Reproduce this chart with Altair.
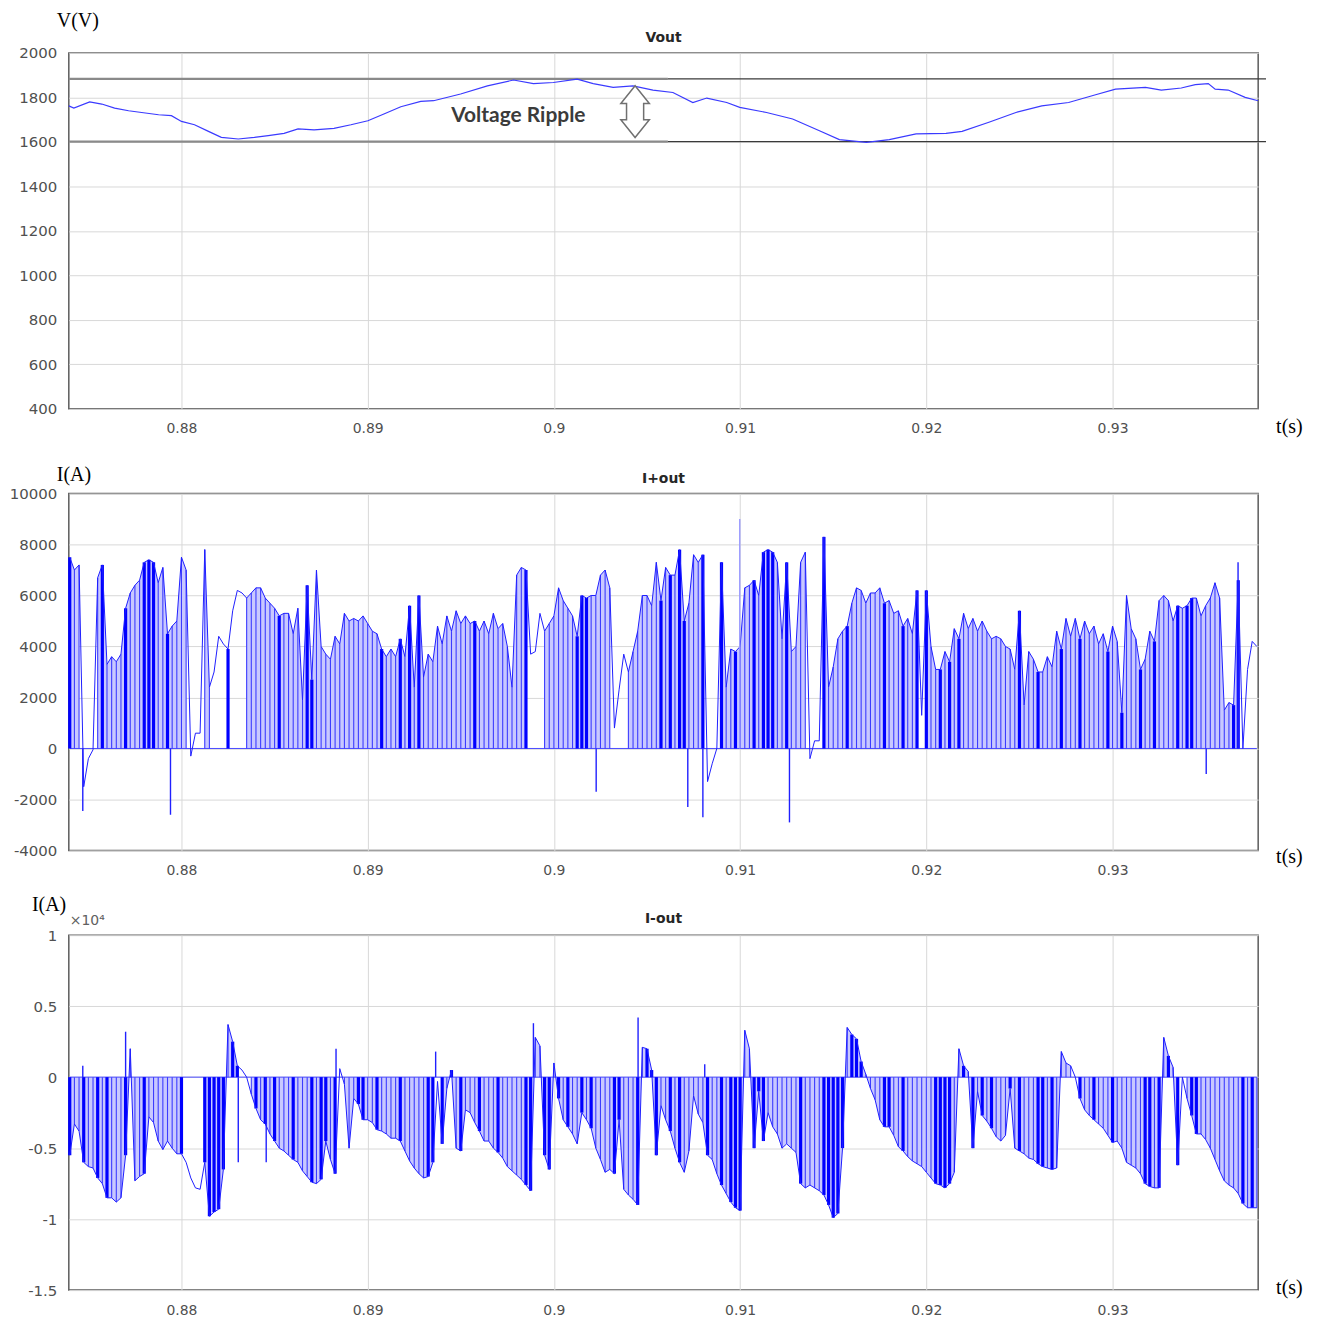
import altair as alt
import pandas as pd

# ------------------------------------------------------------------ data
X_DOMAIN = [873.95, 937.82]          # ms
X_TICKS = [880, 890, 900, 910, 920, 930]

# Vout (panel 1)
VOUT_T = [873.95, 874.22, 875.07, 875.72, 876.41, 877.16, 877.86, 878.77, 879.46, 880.00,
          880.70, 881.45, 882.14, 883.05, 883.91, 884.66, 885.51, 886.26, 887.12, 888.19,
          889.10, 890.01, 890.87, 891.78, 892.85, 893.54, 894.99, 896.43, 897.83, 898.90,
          899.97, 901.25, 902.11, 903.18, 904.25, 905.32, 906.39, 907.46, 908.21, 909.28,
          909.98, 911.42, 912.82, 914.26, 915.33, 916.78, 918.01, 919.45, 921.06, 921.92,
          923.36, 924.81, 926.20, 927.64, 929.09, 930.16, 931.77, 932.62, 933.69, 934.44,
          935.14, 935.51, 936.21, 937.12, 937.82]
VOUT_V = [1762, 1752, 1780, 1770, 1752, 1740, 1732, 1722, 1718, 1692,
          1677, 1647, 1620, 1613, 1620, 1628, 1638, 1658, 1654, 1661,
          1677, 1695, 1725, 1758, 1782, 1785, 1815, 1852, 1878, 1862,
          1867, 1882, 1862, 1845, 1852, 1833, 1822, 1777, 1797, 1777,
          1755, 1732, 1703, 1650, 1610, 1598, 1610, 1636, 1638, 1647,
          1688, 1732, 1762, 1777, 1812, 1837, 1845, 1833, 1842, 1857,
          1862, 1837, 1833, 1800, 1785]
RIPPLE_LEVELS = [1883, 1601]
RIPPLE_SPAN = [873.95, 906.12, 938.24]
RIPPLE_LABEL_T, RIPPLE_LABEL_V = 898.09, 1718
ARROW_T, ARROW_V = 904.36, 1736

# switching-cycle sample clock (ms)
T_MS = [
    874.00, 874.25, 874.50, 874.75, 875.00, 875.25, 875.50, 875.75, 876.00, 876.25, 876.50, 876.75, 877.00, 877.25, 877.50, 877.75,
    878.00, 878.25, 878.50, 878.75, 879.00, 879.25, 879.50, 879.75, 880.00, 880.25, 880.50, 880.75, 881.00, 881.25, 881.50, 881.75,
    882.00, 882.25, 882.50, 882.75, 883.00, 883.25, 883.50, 883.75, 884.00, 884.25, 884.50, 884.75, 885.00, 885.25, 885.50, 885.75,
    886.00, 886.25, 886.50, 886.75, 887.00, 887.25, 887.50, 887.75, 888.00, 888.25, 888.50, 888.75, 889.00, 889.25, 889.50, 889.75,
    890.00, 890.25, 890.50, 890.75, 891.00, 891.25, 891.50, 891.75, 892.00, 892.25, 892.50, 892.75, 893.00, 893.25, 893.50, 893.75,
    894.00, 894.25, 894.50, 894.75, 895.00, 895.25, 895.50, 895.75, 896.00, 896.25, 896.50, 896.75, 897.00, 897.25, 897.50, 897.75,
    898.00, 898.25, 898.50, 898.75, 899.00, 899.25, 899.50, 899.75, 900.00, 900.25, 900.50, 900.75, 901.00, 901.25, 901.50, 901.75,
    902.00, 902.25, 902.50, 902.75, 903.00, 903.25, 903.50, 903.75, 904.00, 904.25, 904.50, 904.75, 905.00, 905.25, 905.50, 905.75,
    906.00, 906.25, 906.50, 906.75, 907.00, 907.25, 907.50, 907.75, 908.00, 908.25, 908.50, 908.75, 909.00, 909.25, 909.50, 909.75,
    910.00, 910.25, 910.50, 910.75, 911.00, 911.25, 911.50, 911.75, 912.00, 912.25, 912.50, 912.75, 913.00, 913.25, 913.50, 913.75,
    914.00, 914.25, 914.50, 914.75, 915.00, 915.25, 915.50, 915.75, 916.00, 916.25, 916.50, 916.75, 917.00, 917.25, 917.50, 917.75,
    918.00, 918.25, 918.50, 918.75, 919.00, 919.25, 919.50, 919.75, 920.00, 920.25, 920.50, 920.75, 921.00, 921.25, 921.50, 921.75,
    922.00, 922.25, 922.50, 922.75, 923.00, 923.25, 923.50, 923.75, 924.00, 924.25, 924.50, 924.75, 925.00, 925.25, 925.50, 925.75,
    926.00, 926.25, 926.50, 926.75, 927.00, 927.25, 927.50, 927.75, 928.00, 928.25, 928.50, 928.75, 929.00, 929.25, 929.50, 929.75,
    930.00, 930.25, 930.50, 930.75, 931.00, 931.25, 931.50, 931.75, 932.00, 932.25, 932.50, 932.75, 933.00, 933.25, 933.50, 933.75,
    934.00, 934.25, 934.50, 934.75, 935.00, 935.25, 935.50, 935.75, 936.00, 936.25, 936.50, 936.75, 937.00, 937.25, 937.50, 937.75,
]

# I+out peak per cycle (A) and drawing kind (0 none, 1 notch, 2 dense notch)
IPLUS = [
    7500, 7000, 7200, -1500, -400, -50, 6700, 7200, 3300, 3600, 3400, 3700, 5500, 6100, 6400, 6600,
    7300, 7400, 7300, 6500, 7100, 4500, 4800, 5000, 7500, 7000, -300, 600, 600, 7800, 2400, 3000,
    4400, 4100, 3900, 5400, 6200, 6100, 5900, 6100, 6300, 6300, 5900, 5700, 5500, 5200, 5300, 5300,
    4500, 5500, 1900, 6400, 2700, 7000, 4000, 3700, 3500, 4400, 4100, 5300, 5000, 5100, 5000, 5200,
    4900, 4600, 4500, 3900, 3600, 3900, 3600, 4300, 3600, 5600, 2400, 6000, 2800, 3700, 3400, 4800,
    4100, 5200, 4600, 5400, 4900, 5200, 4900, 5000, 4600, 5000, 4500, 5300, 4700, 4900, 4000, 2400,
    6800, 7100, 7000, 3700, 3800, 5300, 4600, 4900, 5200, 6300, 5800, 5500, 5200, 4400, 6000, 5900,
    6000, 6000, 6800, 7000, 6300, 800, 2300, 3700, 3000, 3800, 4600, 6000, 6000, 5600, 7300, 5800,
    7100, 6800, 6800, 7800, 5000, 5700, 7600, 7300, 7600, -1300, -600, 0, 7300, 2400, 3900, 3800,
    4000, 6300, 6400, 6600, 6000, 7700, 7800, 7700, 7300, 4300, 7300, 3800, 4000, 7300, 7700, -400,
    300, 300, 8300, 2400, 3200, 4300, 4600, 4800, 5700, 6300, 6200, 5700, 6100, 6100, 6300, 5700,
    5800, 5300, 5400, 4800, 5100, 4500, 6200, 1300, 6200, 4000, 3100, 3100, 3800, 3400, 4700, 4300,
    5300, 4700, 5100, 4600, 5000, 4600, 4300, 4400, 4300, 4000, 3900, 3100, 5400, 1700, 3800, 3500,
    3000, 3000, 3600, 3200, 4600, 3900, 5100, 4400, 5100, 4300, 5000, 4500, 4800, 4100, 4500, 3800,
    4800, 4200, 1400, 6000, 4700, 4300, 3100, 3500, 4600, 4200, 5800, 6000, 5800, 5000, 5600, 5500,
    5600, 5900, 5900, 5200, 5600, 5900, 6500, 5900, 1500, 1800, 1700, 6600, 0, 3100, 4200, 4000,
]
IPLUS_KIND = ("2110001211112111" "2221121111000110" "0020001111111211" "1112211111111111"
              "1112111212121111" "1111111211111111" "1120001111111222" "1111100011111112"
              "1212211120002112" "1112122211211110" "0021111211111112" "1112112021121212"
              "1111111111112111" "2111121112111112" "1121112112111121" "2211111111220000")
IPLUS_SPIKE_T = [874.70, 879.41, 902.27, 907.19, 908.00, 912.65, 935.03, 936.74]
IPLUS_SPIKE_V = [-2450, -2600, -1700, -2300, -2700, -2900, -1000, 7300]
IPLUS_FAINT_T = [909.98]
IPLUS_FAINT_V = [9000]

# I-out peak per cycle (A) and drawing kind
IMINUS = [
    -5500, -3300, -3800, -6000, -6300, -6400, -7100, -7500, -8500, -8500, -8800, -8500, -5500, 2000, -7300, -7000,
    -6800, -2800, -3200, -4500, -5100, -4500, -5000, -5400, -5400, -6000, -7100, -7800, -7900, -6000, -9800, -9500,
    -9300, -6500, 3700, 2500, 800, 500, 0, -1200, -2200, -3000, -3300, -4000, -4500, -5000, -5200, -5500,
    -5800, -6000, -6600, -7000, -7400, -7500, -7200, -4500, -5800, -6800, 600, -500, -5000, -1500, -1900, -3000,
    -3000, -3200, -3700, -3800, -4000, -4300, -4300, -4500, -5200, -5900, -6400, -6800, -7100, -7000, -6000, -300,
    -4700, -800, 500, -5000, -5200, -2300, -2500, -3200, -3800, -4500, -4500, -5000, -5300, -5700, -6300, -6600,
    -6900, -7200, -7600, -8000, 2800, 2200, -5500, -6500, 1000, -1500, -3000, -3500, -4000, -4700, -2500, -3000,
    -3600, -5000, -5800, -6700, -6500, -6800, -3000, -7900, -8300, -8600, -9000, 2100, 2000, 500, -5500, -2000,
    -3000, -3800, -5000, -6000, -6700, -5200, -1300, -2600, -3200, -5500, -5800, -6800, -7600, -8200, -8800, -9200,
    -9400, 3300, 2000, -5000, -1000, -4500, -2500, -3500, -4000, -5000, -4700, -5000, -5300, -7500, -7800, -7600,
    -7800, -8000, -8300, -9000, -9900, -9600, -5000, 3500, 3000, 2700, 1100, 200, -800, -1600, -3000, -3500,
    -3500, -4100, -4900, -5200, -5600, -5900, -6100, -6300, -6700, -7100, -7500, -7600, -7800, -7500, -6700, 2000,
    800, 400, -5000, -1000, -2700, -3100, -3600, -4200, -4500, -4100, -800, -5000, -5200, -5400, -5700, -5800,
    -6100, -6300, -6400, -6500, -6400, 1800, 1000, 800, 0, -1500, -2300, -2700, -3000, -3300, -3600, -4100,
    -4600, -4500, -5000, -6000, -6200, -6400, -6800, -7500, -7700, -7800, -7800, 2800, 1500, 700, -6200, 0,
    -1500, -2700, -4000, -4000, -4400, -5000, -5800, -6600, -7300, -7600, -7800, -8200, -8900, -9200, -9200, -9200,
]
IMINUS_KIND = ("2112112121112111" "2111111120000222" "2212200121212111" "2111212212011122"
               "1121111211111220" "2121211121112111" "1122112212121121" "2111122111212221"
               "1212111112112122" "2112221111111211" "1122222122211112" "2112111111222211"
               "2121212111212111" "2212111102112111" "2111111221212120" "1221111111112121")
IMINUS_SPIKE_T = [874.70, 877.00, 883.05, 884.55, 888.30, 893.65, 898.90, 904.52, 908.10]
IMINUS_SPIKE_V = [800, 3200, -6000, -6000, 2000, 1800, 3800, 4200, 900]

# ------------------------------------------------------------------ style
W = 1193
H1, H2, H3 = 357, 358, 356
BLUE = "#1f1fff"
LIGHT = "#c8c8ff"
LABEL_GRAY = "#505050"
SERIF = "Liberation Serif"

X_AXIS = alt.Axis(values=X_TICKS, labelExpr="'' + datum.value / 1000", grid=True,
                  gridColor="#d8d8d8", gridWidth=1, domain=False, ticks=False,
                  labelFont="DejaVu Sans", labelFontSize=14, labelColor=LABEL_GRAY,
                  labelPadding=13, title=None)
X_SCALE = alt.Scale(domain=X_DOMAIN, nice=False, zero=False)


def X():
    return alt.X("t:Q", scale=X_SCALE, axis=X_AXIS, title=None)


def y_axis(values, expr):
    return alt.Axis(values=values, labelExpr=expr, grid=True, gridColor="#d8d8d8", gridWidth=1,
                    domain=False, ticks=False, labelFont="DejaVu Sans", labelFontSize=15,
                    labelColor=LABEL_GRAY, labelPadding=12, title=None)


def label(text, x, y, size=20, font=SERIF, weight="normal", align="left", color="black"):
    return alt.Chart(pd.DataFrame({"label": [text]})).mark_text(
        font=font, fontSize=size, fontWeight=weight, align=align, baseline="middle", color=color
    ).encode(x=alt.value(x), y=alt.value(y), text="label:N")


def pulse_panel(values, kinds, spikes_t, spikes_v, yscale, yaxis, faint_t=None, faint_v=None):
    n = min(len(T_MS), len(values), len(kinds))
    t = T_MS[:n]
    v = values[:n]
    f = kinds[:n]
    df = pd.DataFrame({"t": t, "i": v, "k": list(f), "z": 0})

    rows = []
    rid = -1
    prev = False
    for j in range(n - 1):
        seg = f[j] != "0" and f[j + 1] != "0"
        if seg:
            if not prev:
                rid += 1
                rows.append({"t": t[j], "i": v[j], "run": rid, "z": 0})
            rows.append({"t": t[j + 1], "i": v[j + 1], "run": rid, "z": 0})
        prev = seg
    fill_df = pd.DataFrame(rows)

    Y = alt.Y("i:Q", scale=yscale, axis=yaxis, stack=None, title=None)
    Z = alt.Y("z:Q", scale=yscale, axis=yaxis, title=None)

    layers = []
    layers.append(alt.Chart(fill_df).mark_area(color=LIGHT, opacity=1, clip=True).encode(
        x=X(), y=Y, y2="z:Q", detail="run:N"))
    zero_df = pd.DataFrame({"t": [t[0]], "t2": [t[-1]], "z": [0]})
    layers.append(alt.Chart(zero_df).mark_rule(color="#4a4aff", strokeWidth=1).encode(
        x=X(), x2="t2:Q", y=Z))
    layers.append(alt.Chart(df[df.k == "1"]).mark_rule(color="#3c3cff", strokeWidth=1.1).encode(
        x=X(), y=Y, y2="z:Q"))
    layers.append(alt.Chart(df[df.k == "2"]).mark_rule(color="#0000ff", strokeWidth=3.2).encode(
        x=X(), y=Y, y2="z:Q"))
    layers.append(alt.Chart(df).mark_line(color=BLUE, strokeWidth=1, clip=True).encode(
        x=X(), y=Y))
    sp = pd.DataFrame({"t": spikes_t, "i": spikes_v, "z": 0})
    layers.append(alt.Chart(sp).mark_rule(color="#2020ff", strokeWidth=1.4).encode(
        x=X(), y=Y, y2="z:Q"))
    if faint_t:
        fp = pd.DataFrame({"t": faint_t, "i": faint_v, "z": 0})
        layers.append(alt.Chart(fp).mark_rule(color="#9a9aff", strokeWidth=1.4).encode(
            x=X(), y=Y, y2="z:Q"))
    return layers


# ------------------------------------------------------------------ panel 1
ys1 = alt.Scale(domain=[400, 2000], nice=False, zero=False)
ya1 = y_axis(list(range(400, 2001, 200)), "'' + datum.value")
V = alt.Y("v:Q", scale=ys1, axis=ya1, title=None)
vdf = pd.DataFrame({"t": VOUT_T, "v": VOUT_V})
rip_a = pd.DataFrame({"t": [RIPPLE_SPAN[0]] * 2, "t2": [RIPPLE_SPAN[1]] * 2, "v": RIPPLE_LEVELS})
rip_b = pd.DataFrame({"t": [RIPPLE_SPAN[1]] * 2, "t2": [RIPPLE_SPAN[2]] * 2, "v": RIPPLE_LEVELS})
ARROW = "M0,-1L0.55,-0.31L0.33,-0.31L0.33,0.31L0.55,0.31L0,1L-0.55,0.31L-0.33,0.31L-0.33,-0.31L-0.55,-0.31Z"

p1 = alt.layer(
    alt.Chart(rip_a).mark_rule(color="#8a8a8a", strokeWidth=2.2).encode(x=X(), x2="t2:Q", y=V),
    alt.Chart(rip_b).mark_rule(color="#3a3a3a", strokeWidth=1.2).encode(x=X(), x2="t2:Q", y=V),
    alt.Chart(vdf).mark_line(color="#3a3aff", strokeWidth=1.2).encode(x=X(), y=V),
    alt.Chart(pd.DataFrame({"t": [RIPPLE_LABEL_T], "v": [RIPPLE_LABEL_V], "label": ["Voltage Ripple"]})).mark_text(
        font="Lato", fontSize=21, fontWeight="bold", color="#3b3b3b", align="center", baseline="middle").encode(
        x=X(), y=V, text="label:N"),
    alt.Chart(pd.DataFrame({"t": [ARROW_T], "v": [ARROW_V]})).mark_point(
        shape=ARROW, size=2704, filled=True, fill="white", stroke="#707070", strokeWidth=1.5, opacity=1).encode(
        x=X(), y=V),
    label("Vout", W / 2, -15, size=14, font="DejaVu Sans", weight="bold", align="center", color="#262626"),
    label("V(V)", -12, -32),
    label("t(s)", W + 18, H1 + 18),
).properties(width=W, height=H1)

# ------------------------------------------------------------------ panel 2
ys2 = alt.Scale(domain=[-4000, 10000], nice=False, zero=False)
p2_layers = pulse_panel(IPLUS, IPLUS_KIND, IPLUS_SPIKE_T, IPLUS_SPIKE_V, ys2,
                        y_axis(list(range(-4000, 10001, 2000)), "'' + datum.value"),
                        IPLUS_FAINT_T, IPLUS_FAINT_V)
p2 = alt.layer(
    *p2_layers,
    label("I+out", W / 2, -15, size=14, font="DejaVu Sans", weight="bold", align="center", color="#262626"),
    label("I(A)", -12, -19),
    label("t(s)", W + 18, H2 + 7),
).properties(width=W, height=H2)

# ------------------------------------------------------------------ panel 3
ys3 = alt.Scale(domain=[-15000, 10000], nice=False, zero=False)
p3_layers = pulse_panel(IMINUS, IMINUS_KIND, IMINUS_SPIKE_T, IMINUS_SPIKE_V, ys3,
                        y_axis(list(range(-15000, 10001, 5000)), "'' + datum.value / 10000"))
p3 = alt.layer(
    *p3_layers,
    label("I-out", W / 2, -16, size=14, font="DejaVu Sans", weight="bold", align="center", color="#262626"),
    label("I(A)", -37, -30),
    label("×10⁴", 1, -14, size=14, font="DejaVu Sans", color="#606060"),
    label("t(s)", W + 18, H3 - 2),
).properties(width=W, height=H3)

chart = alt.vconcat(p1, p2, p3, spacing=85, bounds="flush").properties(
    padding={"left": 0, "top": 0, "right": 10, "bottom": 10}
).configure_view(stroke="#5c5c5c", strokeWidth=1.5)

chart.save("out.html", embed_options={"renderer": "svg", "actions": False})
